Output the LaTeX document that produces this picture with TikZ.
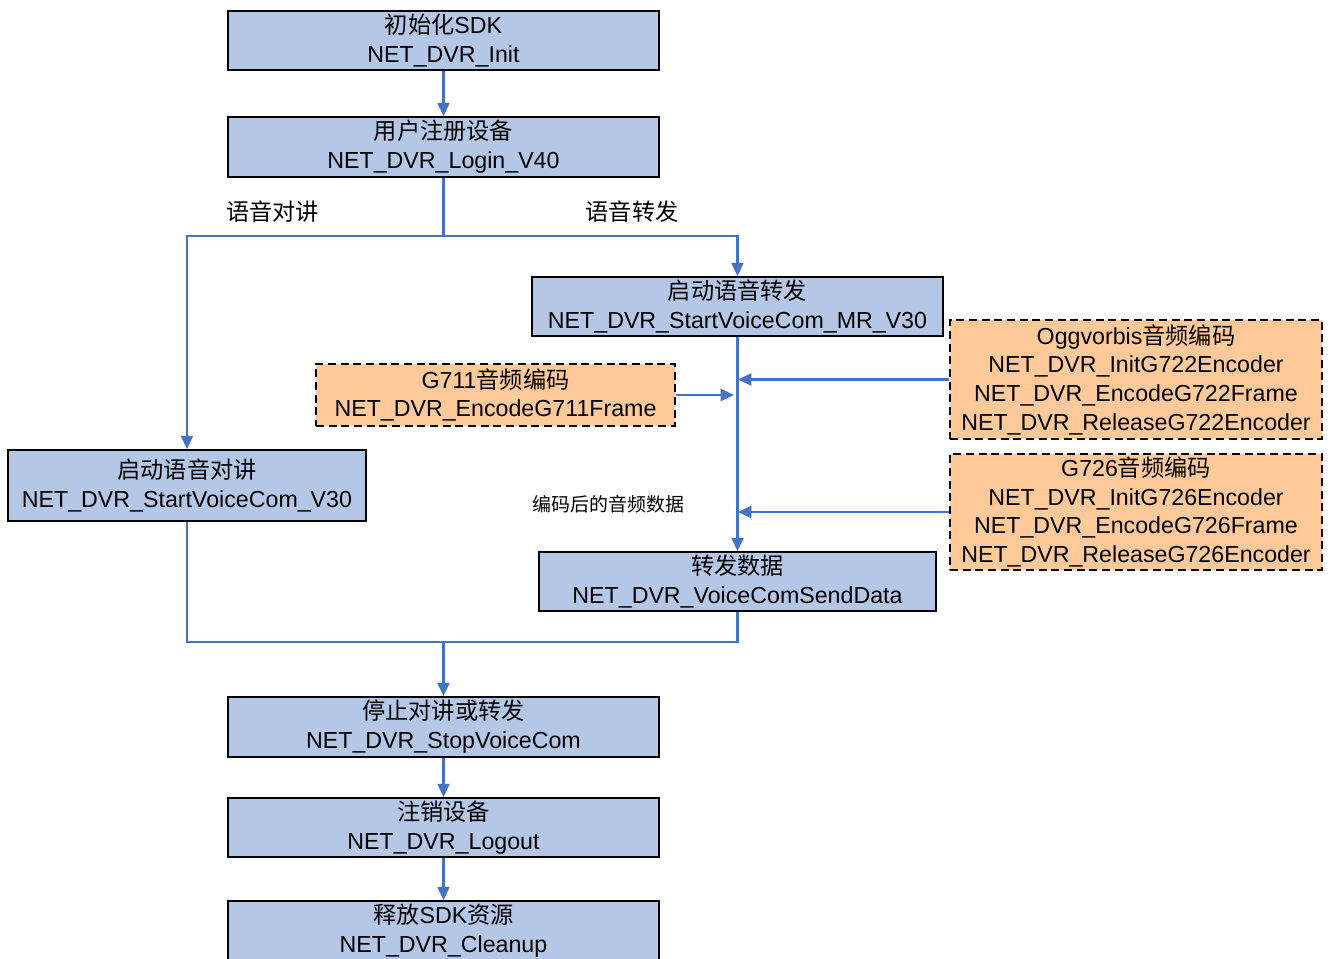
\documentclass[tikz,border=0pt]{standalone}
\usepackage{fontspec}
\setmainfont{Liberation Sans}
\newfontfamily\cjk{Noto Sans CJK SC}
\usetikzlibrary{arrows.meta}
\definecolor{boxblue}{HTML}{B4C7E7}
\definecolor{boxorange}{HTML}{FFC999}
\definecolor{linkblue}{HTML}{4472C4}
\tikzset{
  stepbox/.style={draw=black, line width=1.3pt, fill=boxblue, rectangle, inner sep=0pt, align=center,
    font=\fontsize{17.4pt}{21.75pt}\selectfont},
  codecbox/.style={draw=black, line width=1.3pt, dash pattern=on 6pt off 3.5pt, fill=boxorange, rectangle, inner sep=0pt, align=center,
    font=\fontsize{17.4pt}{21.5pt}\selectfont},
  conn/.style={draw=linkblue, line width=1.6pt},
  arr/.style={conn, -{Triangle[length=10pt,width=9pt]}},
  lbl/.style={font=\fontsize{17.4pt}{21pt}\selectfont, inner sep=0pt},
  smalllbl/.style={font=\fontsize{14.2pt}{17pt}\selectfont, inner sep=0pt}
}
\begin{document}
\begin{tikzpicture}[x=0.75pt,y=-0.75pt]
\clip (0,0) rectangle (1331,958);
\fill[white] (0,0) rectangle (1331,958);

\node[stepbox, minimum width=323.25pt, minimum height=44.25pt] (init) at (443.5,40.5) {{\cjk 初始化}SDK\\NET\_DVR\_Init};
\node[stepbox, minimum width=323.25pt, minimum height=45pt] (login) at (443.5,147) {{\cjk 用户注册设备}\\NET\_DVR\_Login\_V40};
\node[stepbox, minimum width=268.5pt, minimum height=53.25pt] (talk) at (187,485.5) {{\cjk 启动语音对讲}\\NET\_DVR\_StartVoiceCom\_V30};
\node[stepbox, minimum width=308.25pt, minimum height=44.25pt] (fwd) at (737.5,306.5) {{\cjk 启动语音转发}\\NET\_DVR\_StartVoiceCom\_MR\_V30};
\node[codecbox, minimum width=269.25pt, minimum height=46.5pt] (g711) at (495.5,395) {G711{\cjk 音频编码}\\NET\_DVR\_EncodeG711Frame};
\node[codecbox, minimum width=279pt, minimum height=89.25pt] (ogg) at (1136,379.5) {Oggvorbis{\cjk 音频编码}\\NET\_DVR\_InitG722Encoder\\NET\_DVR\_EncodeG722Frame\\NET\_DVR\_ReleaseG722Encoder};
\node[codecbox, minimum width=279pt, minimum height=87pt] (g726) at (1136,512) {G726{\cjk 音频编码}\\NET\_DVR\_InitG726Encoder\\NET\_DVR\_EncodeG726Frame\\NET\_DVR\_ReleaseG726Encoder};
\node[stepbox, minimum width=297.75pt, minimum height=44.25pt] (send) at (737.5,581.5) {{\cjk 转发数据}\\NET\_DVR\_VoiceComSendData};
\node[stepbox, minimum width=323.25pt, minimum height=45pt] (stop) at (443.5,727) {{\cjk 停止对讲或转发}\\NET\_DVR\_StopVoiceCom};
\node[stepbox, minimum width=323.25pt, minimum height=44.25pt] (logout) at (443.5,827.5) {{\cjk 注销设备}\\NET\_DVR\_Logout};
\node[stepbox, minimum width=323.25pt, minimum height=45pt] (cleanup) at (443.5,931) {{\cjk 释放}SDK{\cjk 资源}\\NET\_DVR\_Cleanup};

\node[lbl] (ltalk) at (272.5,212) {\cjk 语音对讲};
\node[lbl] (lfwd) at (632,212) {\cjk 语音转发};
\node[smalllbl] (lenc) at (608.5,504) {\cjk 编码后的音频数据};

\coordinate (split) at (443.5,236);
\coordinate (merge) at (443.5,642);
\coordinate (j711) at (734,395);
\coordinate (j722) at (738,379.5);
\coordinate (j726) at (738,512);

\draw[arr] (init.south) -- (login.north);
\draw[conn] (login.south) -- (split);
\draw[arr] (split) -| (talk.north);
\draw[arr] (split) -| (fwd.north);
\draw[arr] (fwd.south) -- (send.north);
\draw[arr] (g711.east) -- (j711);
\draw[arr] (ogg.west) -- (j722);
\draw[arr] (g726.west) -- (j726);
\draw[conn] (send.south) |- (merge);
\draw[conn] (talk.south) |- (merge);
\draw[arr] (merge) -- (stop.north);
\draw[arr] (stop.south) -- (logout.north);
\draw[arr] (logout.south) -- (cleanup.north);
\end{tikzpicture}
\end{document}
